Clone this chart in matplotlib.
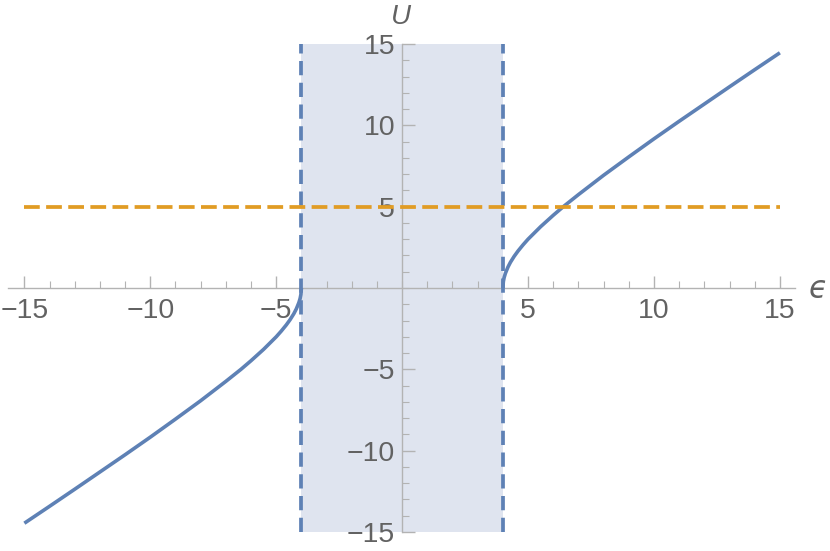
import numpy as np
from matplotlib import pyplot as plt
from matplotlib.ticker import MultipleLocator

# curve (right branch; left branch is the mirror image)
eps_right = [4.0, 4.02, 4.05, 4.1, 4.2, 4.3, 4.45, 4.6, 4.8, 5.0, 5.5, 6.0, 6.4,
             7.0, 8.0, 9.0, 10.0, 11.0, 12.0, 13.0, 14.0, 15.0]
u_right = [0.0, 0.40, 0.64, 0.90, 1.28, 1.58, 1.95, 2.27, 2.65, 3.0, 3.77, 4.47, 5.0,
           5.74, 6.93, 8.06, 9.17, 10.25, 11.31, 12.37, 13.42, 14.46]
eps_left = [-e for e in eps_right]
u_left = [-u for u in u_right]

band = [-4, 4]        # shaded gap between the dashed lines
level = 5             # horizontal dashed line
ticks = [-15, -10, -5, 5, 10, 15]

blue = "#5e81b5"
orange = "#e19c24"
gray = "#b3b3b3"
txt = "#626262"

plt.rcParams["font.family"] = ["Liberation Sans", "DejaVu Sans"]

fig = plt.figure(figsize=(8.3, 5.51), dpi=100)
ax = fig.add_axes([8 / 830, 19 / 551, 787 / 830, 488 / 551])
ax.set_xlim(-15.65, 15.6)
ax.set_ylim(-15, 15)

ax.fill_between(band, -15, 15, color="#dfe4ef", lw=0, zorder=0)
ax.plot(eps_right, u_right, color=blue, lw=2.6, zorder=3, solid_capstyle="butt")
ax.plot(eps_left[::-1], u_left[::-1], color=blue, lw=2.6, zorder=3, solid_capstyle="butt")
for b in band:
    ax.plot([b, b], [-15, 15], color=blue, lw=2.7, dashes=(3.8, 2.0), zorder=4)
ax.plot([-15, 15], [level, level], color=orange, lw=2.7, dashes=(4.2, 1.7), zorder=4)

for s in ["top", "right"]:
    ax.spines[s].set_visible(False)
for s in ["left", "bottom"]:
    ax.spines[s].set_position(("data", 0))
    ax.spines[s].set_color(gray)
    ax.spines[s].set_linewidth(1.0)
    ax.spines[s].set_zorder(2)

ax.set_xticks(ticks)
ax.set_yticks(ticks)
ax.xaxis.set_minor_locator(MultipleLocator(1))
ax.yaxis.set_minor_locator(MultipleLocator(1))
ax.tick_params(which="major", direction="in", length=9, width=1, color=gray,
               labelsize=20.5, labelcolor=txt)
ax.tick_params(which="minor", direction="in", length=5, width=0.8, color=gray)
ax.tick_params(axis="x", pad=7)
ax.tick_params(axis="y", pad=5)

fig.text(817 / 830, 1 - 289 / 551, "ϵ", fontsize=22, color=txt, style="italic",
         ha="center", va="center", family=["DejaVu Sans"])
fig.text(401 / 830, 1 - 17 / 551, "U", fontsize=20, color=txt, style="italic",
         ha="center", va="center")

fig.savefig("out.png", dpi=100)
